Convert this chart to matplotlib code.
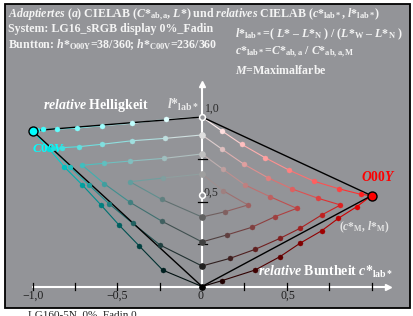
import matplotlib.pyplot as plt
from matplotlib.patches import Rectangle

plt.rcParams['font.family'] = 'Liberation Serif'
plt.rcParams['mathtext.fontset'] = 'custom'
plt.rcParams['mathtext.rm'] = 'Liberation Serif:bold'
plt.rcParams['mathtext.it'] = 'Liberation Serif:italic:bold'
plt.rcParams['mathtext.bf'] = 'Liberation Serif:bold'

# relative lightness l* of the grey steps on the axis, W ... N
grey_l = [1.0, 0.894, 0.782, 0.664, 0.540, 0.410, 0.263, 0.121, 0.0]

# O00Y side: chevron k goes from grey_l[k] out to its vertex and back to grey_l[8-k]
red_k0 = [(0.116, 0.919), (0.234, 0.839), (0.372, 0.760), (0.515, 0.686),
          (0.661, 0.621), (0.806, 0.577), (0.936, 0.544), (1.0, 0.536),
          (0.913, 0.471), (0.804, 0.402), (0.706, 0.329), (0.578, 0.255),
          (0.460, 0.176), (0.313, 0.097), (0.116, 0.034)]
red_k1 = [(0.120, 0.809), (0.248, 0.721), (0.388, 0.642), (0.533, 0.575),
          (0.686, 0.520), (0.817, 0.481), (0.706, 0.422), (0.578, 0.343),
          (0.460, 0.284), (0.313, 0.219), (0.165, 0.166)]
red_k2 = [(0.125, 0.691), (0.254, 0.599), (0.401, 0.530), (0.559, 0.461),
          (0.431, 0.412), (0.293, 0.349), (0.146, 0.304)]
red_k3 = [(0.125, 0.565), (0.271, 0.481), (0.136, 0.441)]

# C00V side
cyan_k0 = [(-0.214, 0.986), (-0.411, 0.963), (-0.592, 0.949), (-0.736, 0.935),
           (-0.854, 0.929), (-0.936, 0.927), (-0.975, 0.922), (-1.0, 0.919),
           (-0.90, 0.81), (-0.812, 0.705), (-0.706, 0.599), (-0.598, 0.483),
           (-0.490, 0.363), (-0.370, 0.239), (-0.232, 0.097)]
cyan_k1 = [(-0.218, 0.874), (-0.411, 0.860), (-0.592, 0.839), (-0.726, 0.825),
           (-0.824, 0.819), (-0.88, 0.815), (-0.779, 0.705), (-0.667, 0.599),
           (-0.547, 0.487), (-0.409, 0.373), (-0.248, 0.245)]
cyan_k2 = [(-0.224, 0.756), (-0.425, 0.740), (-0.576, 0.727), (-0.706, 0.715),
           (-0.576, 0.606), (-0.425, 0.497), (-0.238, 0.386)]
cyan_k3 = [(-0.230, 0.640), (-0.425, 0.618), (-0.238, 0.514)]

red_m = (1.0, 0.0, 0.0)
cyan_m = (0.0, 1.0, 1.0)
bg = '#939498'

W, H = 413, 316
fig = plt.figure(figsize=(W / 100, H / 100), dpi=100)
ax = fig.add_axes([0, 0, 1, 1])
ax.set_xlim(-202 / 169.5, (W - 202) / 169.5)
ax.set_ylim((286.5 - H) / 169.5, 286.5 / 169.5)
ax.axis('off')


def put(x, y, s, **kw):
    # layout position in pixels from the top left corner
    ax.text(x / W, 1 - y / H, s, transform=ax.transAxes, **kw)


ax.add_patch(Rectangle((5 / W, 1 - 308 / H), 405 / W, 304 / H,
                       transform=ax.transAxes, facecolor=bg,
                       edgecolor='black', lw=1.3, zorder=0))

# white axes with arrow heads
ax.plot([-1.0, 1.09], [0, 0], color='white', lw=1.5, zorder=1)
ax.plot(1.095, 0, marker='>', color='white', ms=5, zorder=1)
ax.plot([0, 0], [0, 1.19], color='white', lw=1.5, zorder=1)
ax.plot(0, 1.195, marker='^', color='white', ms=5, zorder=1)
for t in [-1.0, -0.75, -0.5, -0.25, 0.25, 0.5, 0.75, 1.0]:
    ax.plot([t, t], [-0.02, 0.02], color='black', lw=0.9, zorder=2)
for t in [0.25, 0.5, 0.75]:
    ax.plot([-0.025, 0.03], [t, t], color='black', lw=0.9, zorder=2)


def draw_hue(chevrons, mcol):
    for k, pts in enumerate(chevrons):
        path = [(0, grey_l[k])] + pts + [(0, grey_l[8 - k])]
        n = 8 - 2 * k
        cols = []
        for i in range(len(path)):
            j = i if i <= n else 2 * n - i
            c = j / 8
            w = 1 - c - k / 8 if i <= n else k / 8
            cols.append(tuple(min(1.0, w + c * m) for m in mcol))
        for i in range(len(path) - 1):
            col = tuple((a + b) / 2 for a, b in zip(cols[i], cols[i + 1]))
            ax.plot([path[i][0], path[i + 1][0]], [path[i][1], path[i + 1][1]],
                    color=col, lw=0.8, zorder=2)
        for i in range(1, len(path) - 1):
            ax.plot(path[i][0], path[i][1], 'o', ms=3.6, mfc=cols[i],
                    mec=cols[i], mew=0.3, zorder=4)


draw_hue([red_k0, red_k1, red_k2, red_k3], red_m)
draw_hue([cyan_k0, cyan_k1, cyan_k2, cyan_k3], cyan_m)

# ideal triangle W - M - N in black
for m in [red_k0[7], cyan_k0[7]]:
    ax.plot([0, m[0], 0], [1.0, m[1], 0.0], color='black', lw=1.0, zorder=3)

# grey steps on the axis
for k, g in enumerate(grey_l):
    v = 1 - k / 8
    if k in (0, 4):
        ax.plot(0, g, 'o', ms=4.2, mfc=bg, mec='white', mew=1.1, zorder=5)
    else:
        ax.plot(0, g, 'o', ms=3.8, mfc=(v,) * 3, mec=(v,) * 3, zorder=5)

ax.plot(*red_k0[7], 'o', ms=6.5, mfc=red_m, mec='black', mew=1.0, zorder=6)
ax.plot(*cyan_k0[7], 'o', ms=6.5, mfc=cyan_m, mec='black', mew=1.0, zorder=6)

# texts
hdr = dict(color='#f4f4f4', fontsize=8.6, fontweight='bold', va='center')
put(8, 15, r"$\mathit{Adaptiertes\ (a)}$ CIELAB ($C$*$_{\mathrm{ab,a}}$, $L$*) und "
    r"$\mathit{relatives}$ CIELAB ($c$*$_{\mathrm{lab*}}$, $l$*$_{\mathrm{lab*}}$)", **hdr)
put(8, 29, "System: LG16_sRGB display 0%_Fadin", **hdr)
put(8, 45, r"Buntton: $h$*$_{\mathrm{O00Y}}$=38/360; $h$*$_{\mathrm{C00V}}$=236/360", **hdr)
put(235, 34, r"$l$*$_{\mathrm{lab*}}$=( $L$* – $L$*$_{\mathrm{N}}$ ) / ($L$*$_{\mathrm{W}}$ – $L$*$_{\mathrm{N}}$ )", **hdr)
put(235, 52, r"$c$*$_{\mathrm{lab*}}$=$C$*$_{\mathrm{ab,a}}$ / $C$*$_{\mathrm{ab,a,M}}$", **hdr)
put(235, 70, r"$M$=Maximalfarbe", **hdr)

put(43, 105, r"$\mathit{relative}$ Helligkeit", color='white', fontsize=10,
    fontweight='bold', va='center')
put(167, 105, r"$l$*$_{\mathrm{lab*}}$", color='#e8e8e8', fontsize=10, fontweight='bold', va='center')
put(258, 272, r"$\mathit{relative}$ Buntheit $c$*$_{\mathrm{lab*}}$", color='white',
    fontsize=10, fontweight='bold', va='center')
put(339, 227, r"($c$*$_{\mathrm{M}}$, $l$*$_{\mathrm{M}}$)", color='#e4e4e4', fontsize=8.3,
    fontweight='bold', va='center')
put(361, 177, r"$\mathit{O00Y}$", color='#ff0000', fontsize=9.8, va='center')
put(32, 149, r"$\mathit{C00V}$", color='#00ffff', fontsize=9.3, va='center')

put(205, 109, "1,0", color='#2a2a2a', fontsize=8.5, va='center')
put(203, 193, "0,5", color='#2a2a2a', fontsize=8.5, va='center')
for x, s in [(33, "−1,0"), (117, "−0,5"), (200, "0"), (288, "0,5")]:
    put(x, 296, s, color='#1e1e1e', fontsize=8.5, va='center', ha='center')

put(28, 310, "LG160-5N_0%_Fadin 0", color='#222222', fontsize=8, va='top')

fig.savefig('out.png', dpi=100)
